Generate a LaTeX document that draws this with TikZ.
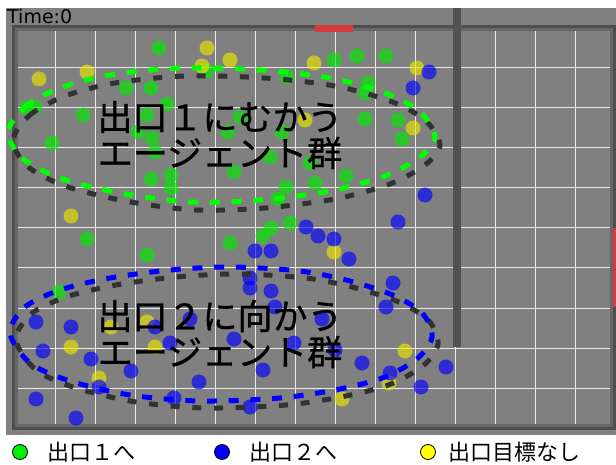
\documentclass[tikz,border=0pt]{standalone}
\usepackage{fontspec}
\newfontfamily\jp{Noto Sans CJK JP}
\newfontfamily\jpb[FakeBold=0.8]{Noto Sans CJK JP}
\newfontfamily\dv{DejaVu Sans}
\definecolor{bgc}{RGB}{128,128,128}
\definecolor{bordA}{RGB}{78,78,78}
\definecolor{bordB}{RGB}{103,103,103}
\definecolor{wallc}{RGB}{82,82,82}
\definecolor{exitc}{RGB}{215,60,60}
\definecolor{dotg}{RGB}{0,235,0}
\definecolor{doty}{RGB}{235,230,0}
\definecolor{dotb}{RGB}{0,0,255}
\definecolor{ringg}{RGB}{0,255,0}
\definecolor{ringb}{RGB}{0,0,255}
\definecolor{shadowc}{RGB}{50,50,50}
\definecolor{legg}{RGB}{0,240,0}
\definecolor{legy}{RGB}{255,255,0}
\definecolor{legb}{RGB}{0,0,255}
\tikzset{
  gridline/.style={draw=white!92!black, line width=1},
  gdot/.style={fill=dotg, fill opacity=0.65},
  ydot/.style={fill=doty, fill opacity=0.65},
  bdot/.style={fill=dotb, fill opacity=0.65},
  shadowring/.style={draw=shadowc, line width=5, dash pattern=on 9 off 12.7},
  greenring/.style={draw=ringg, line width=5, dash pattern=on 10 off 11.7},
  bluering/.style={draw=ringb, line width=5, dash pattern=on 10 off 11.7},
  bigtext/.style={font=\jpb\fontsize{35}{36}\selectfont, align=center, inner sep=0, text=black},
  legtext/.style={font=\jp\fontsize{22}{22}\selectfont, anchor=west, inner sep=0},
  legdot/.style={circle, draw=black, line width=0.8, minimum size=15, inner sep=0},
}
\begin{document}
\begin{tikzpicture}[x=1pt,y=-1pt]
\useasboundingbox (0,0) rectangle (616,465);
\fill[white] (0,0) rectangle (616,465);
\fill[bgc] (6,8) rectangle (616,435);
% grid
\foreach \x in {55,95,...,575} \draw[gridline] (\x,28) -- (\x,427);
\foreach \y in {68,108,...,388} \draw[gridline] (15,\y) -- (613,\y);
% border
\draw[line width=3, draw=bordA] (13.5,26.5) rectangle (614.5,428.5);
\draw[line width=3, draw=bordB] (16.5,29.5) rectangle (611.5,425.5);
% exits
\fill[exitc] (315,25) rectangle (353,32);
\fill[exitc] (613,228) rectangle (616,307);
% wall
\fill[wallc] (453,8) rectangle (461,347);
% time
\node[anchor=north west, inner sep=0, font=\dv\fontsize{19}{19}\selectfont] (time) at (7,8.5) {Time:0};
% dots
\foreach \p in {(159,48),(207,71),(126,88),(151,88),(167,104),(27,108),(35,107),(83,115),(147,115),(138,132),(152,138),(155,152),(52,143),(151,179),(171,175),(171,188),(287,77),(334,60),(357,56),(386,56),(368,83),(365,93),(228,132),(240,117),(282,132),(365,119),(398,120),(402,139),(270,157),(234,172),(310,163),(346,176),(315,183),(286,187),(278,199),(290,223),(271,228),(263,236),(87,239),(147,255),(230,243),(59,292)}
  \fill[gdot] \p circle (7.5);
\foreach \p in {(207,48),(202,66),(230,60),(39,79),(87,72),(71,216),(314,63),(417,68),(305,120),(413,128),(111,327),(147,322),(71,347),(155,347),(99,378),(334,252),(405,351),(389,383),(342,399)}
  \fill[ydot] \p circle (7.5);
\foreach \p in {(429,72),(413,88),(425,195),(306,227),(398,222),(36,322),(71,327),(155,327),(190,319),(43,351),(170,343),(91,359),(131,371),(99,387),(199,382),(36,399),(174,398),(76,418),(318,236),(334,239),(349,259),(255,251),(271,251),(250,278),(250,288),(271,291),(275,307),(393,283),(386,307),(322,319),(234,339),(294,343),(335,350),(362,363),(263,370),(446,367),(390,373),(421,387),(250,407)}
  \fill[bdot] \p circle (7.5);
% group outlines
\begin{scope}[shift={(5,8)}]
\draw[shadowring] plot[smooth cycle] coordinates {(8,132) (25,107) (60,88) (110,75) (180,68) (260,70) (330,78) (385,93) (420,112) (435,137) (420,157) (385,176) (330,191) (260,200) (190,202) (120,193) (60,178) (22,158)};
\end{scope}
\draw[greenring] plot[smooth cycle] coordinates {(8,132) (25,107) (60,88) (110,75) (180,68) (260,70) (330,78) (385,93) (420,112) (435,137) (420,157) (385,176) (330,191) (260,200) (190,202) (120,193) (60,178) (22,158)};
\begin{scope}[shift={(6,7)}]
\draw[shadowring] plot[smooth cycle] coordinates {(10,333) (25,307) (60,290) (110,278) (170,270) (230,267) (300,271) (350,281) (395,296) (423,314) (432,337) (418,358) (385,377) (340,389) (280,398) (200,401) (130,395) (70,381) (30,363)};
\end{scope}
\draw[bluering] plot[smooth cycle] coordinates {(10,333) (25,307) (60,290) (110,278) (170,270) (230,267) (300,271) (350,281) (395,296) (423,314) (432,337) (418,358) (385,377) (340,389) (280,398) (200,401) (130,395) (70,381) (30,363)};
% labels
\node[bigtext] (g1) at (220,135) {出口１にむかう\\エージェント群};
\node[bigtext] (g2) at (220,334) {出口２に向かう\\エージェント群};
% legend
\node[legdot, fill=legg] (l1) at (20,452) {};
\node[legtext] (t1) at (47,452) {出口１へ};
\node[legdot, fill=legb] (l2) at (222,452) {};
\node[legtext] (t2) at (249,452) {出口２へ};
\node[legdot, fill=legy] (l3) at (428,452) {};
\node[legtext] (t3) at (448,452) {出口目標なし};
\end{tikzpicture}
\end{document}
